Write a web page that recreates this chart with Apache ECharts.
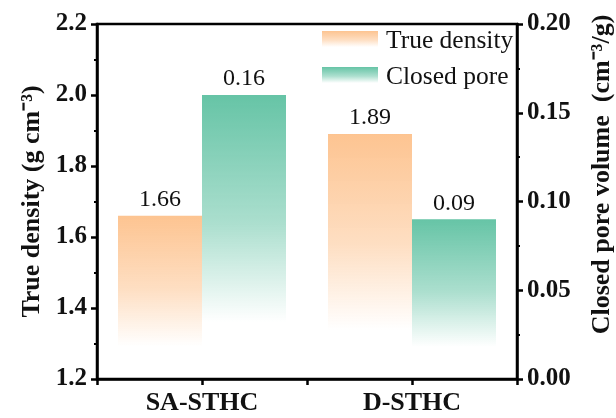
<!DOCTYPE html>
<html>
<head>
<meta charset="utf-8">
<script src="https://cdn.jsdelivr.net/npm/echarts@6/dist/echarts.min.js"></script>
<style>html,body{margin:0;padding:0;background:#fff}#c{width:616px;height:418px}</style>
</head>
<body>
<div id="c"></div>
<script>
const categories = ['SA-STHC', 'D-STHC'];
const trueDensity = [1.66, 1.89];
const closedPore = [0.16, 0.09];
const leftTicks = { min: 1.2, max: 2.2, interval: 0.2 };
const rightTicks = { min: 0, max: 0.2, interval: 0.05 };

const FONT = '"Liberation Serif", "Times New Roman", serif';
function grad(c) {
  return new echarts.graphic.LinearGradient(0, 0, 0, 1, [
    { offset: 0, color: c },
    { offset: 0.45, color: c.replace('1)', '0.55)') },
    { offset: 0.8, color: c.replace('1)', '0)') },
    { offset: 1, color: c.replace('1)', '0)') }
  ]);
}
const orange = 'rgba(253,196,145,1)';
const green = 'rgba(102,196,166,1)';

const chart = echarts.init(document.getElementById('c'), null, { renderer: 'canvas' });
chart.setOption({
  animation: false,
  grid: { left: 97, right: 99, top: 24, bottom: 39, containLabel: false, outerBoundsMode: 'none', show: true, borderColor: '#000', borderWidth: 2.5, backgroundColor: 'transparent' },
  legend: {
    left: 322, top: 28, orient: 'vertical', padding: 0,
    itemWidth: 56, itemHeight: 20, itemGap: 10,
    icon: 'rect',
    textStyle: { fontFamily: FONT, fontSize: 25.5, color: '#111', padding: [0, 0, 0, 3] },
    data: ['True density', 'Closed pore']
  },
  xAxis: [
    {
      type: 'category', data: categories, position: 'bottom',
      axisLine: { lineStyle: { color: '#000', width: 2.5 } },
      axisTick: { show: true, length: 6, lineStyle: { width: 2.5, color: '#000' } },
      axisLabel: { fontFamily: FONT, fontWeight: 'bold', fontSize: 26, color: '#111', margin: 11 },
      splitLine: { show: false }
    },
    {
      type: 'category', data: categories, position: 'bottom',
      axisLine: { show: false },
      axisTick: { show: true, alignWithLabel: true, length: 6, lineStyle: { width: 2.5, color: '#000' } },
      axisLabel: { show: false },
      splitLine: { show: false }
    }
  ],
  yAxis: [
    {
      type: 'value', min: leftTicks.min, max: leftTicks.max, interval: leftTicks.interval,
      position: 'left',
      name: 'True density (g cm\u207B\u00B3)', nameLocation: 'middle', nameRotate: 90, nameGap: 47,
      nameTextStyle: { fontFamily: FONT, fontWeight: 'bold', fontSize: 26, color: '#111' },
      axisLine: { show: true, lineStyle: { color: '#000', width: 2.5 } },
      axisTick: { show: true, length: 6, lineStyle: { width: 2.5, color: '#000' } },
      minorTick: { show: true, splitNumber: 2, length: 3, lineStyle: { width: 2, color: '#000' } },
      axisLabel: { fontFamily: FONT, fontWeight: 'bold', fontSize: 25, color: '#111', margin: 10, formatter: v => v.toFixed(1) },
      splitLine: { show: false }
    },
    {
      type: 'value', min: rightTicks.min, max: rightTicks.max, interval: rightTicks.interval,
      position: 'right',
      name: 'Closed pore volume  (cm\u207B\u00B3/g)', nameLocation: 'middle', nameRotate: 90, nameGap: 72,
      nameTextStyle: { fontFamily: FONT, fontWeight: 'bold', fontSize: 26, color: '#111', padding: [0, 0, 0, 54] },
      axisLine: { show: true, lineStyle: { color: '#000', width: 2.5 } },
      axisTick: { show: true, length: 6, lineStyle: { width: 2.5, color: '#000' } },
      minorTick: { show: true, splitNumber: 2, length: 3, lineStyle: { width: 2, color: '#000' } },
      axisLabel: { fontFamily: FONT, fontWeight: 'bold', fontSize: 25, color: '#111', margin: 10, formatter: v => v.toFixed(2) },
      splitLine: { show: false }
    }
  ],
  series: [
    {
      name: 'True density', type: 'bar', xAxisIndex: 0, yAxisIndex: 0,
      data: trueDensity, barGap: '0%', barCategoryGap: '20%',
      itemStyle: { color: grad(orange) },
      label: { show: true, position: 'top', fontFamily: FONT, fontSize: 24, color: '#111', distance: 4, formatter: p => p.value.toFixed(2) }
    },
    {
      name: 'Closed pore', type: 'bar', xAxisIndex: 0, yAxisIndex: 1,
      data: closedPore, barGap: '0%', barCategoryGap: '20%',
      itemStyle: { color: grad(green) },
      label: { show: true, position: 'top', fontFamily: FONT, fontSize: 24, color: '#111', distance: 4, formatter: p => p.value.toFixed(2) }
    }
  ]
});
</script>
</body>
</html>
